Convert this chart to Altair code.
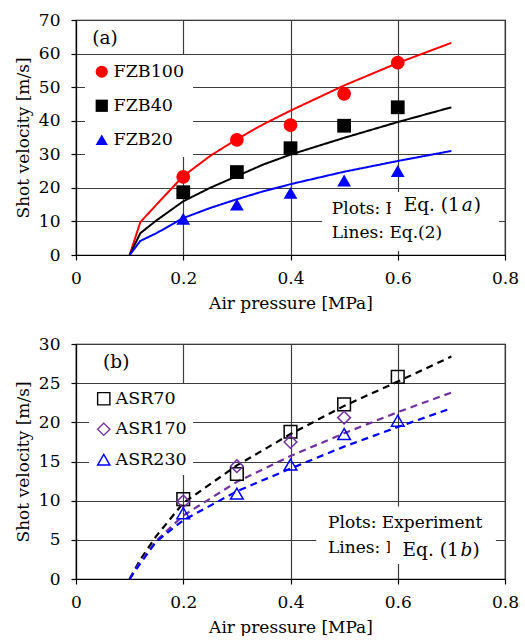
import altair as alt
import pandas as pd

FONT = "DejaVu Serif"
AX_FS = 17
TXT_FS = 17

# ---------------- Panel (a) data ----------------
a_series = ["FZB100", "FZB40", "FZB20"]
a_colors = ["#ff0000", "#000000", "#0000ff"]
a_shapes = ["circle", "square", "triangle-up"]
a_x = [0.2, 0.3, 0.4, 0.5, 0.6]
a_fzb100 = [23.3, 34.3, 38.7, 48.0, 57.3]
a_fzb40 = [18.7, 24.7, 31.8, 38.5, 44.0]
a_fzb20 = [10.8, 15.0, 18.5, 22.2, 25.0]
a_line_x = [0.1, 0.12, 0.15, 0.2, 0.25, 0.3, 0.35, 0.4, 0.5, 0.6, 0.7]
a_line_fzb100 = [0, 9.8, 15.0, 23.5, 29.5, 34.5, 39.0, 43.0, 50.5, 57.2, 63.2]
a_line_fzb40 = [0, 6.5, 10.3, 16.0, 20.0, 23.5, 27.0, 29.9, 34.9, 39.6, 44.0]
a_line_fzb20 = [0, 4.2, 6.5, 11.0, 14.0, 16.6, 19.0, 21.1, 24.8, 28.0, 31.0]

# ---------------- Panel (b) data ----------------
b_series = ["ASR70", "ASR170", "ASR230"]
b_colors = ["#000000", "#7030a0", "#0000ff"]
b_shapes = ["square", "diamond", "triangle-up"]
b_x = [0.2, 0.3, 0.4, 0.5, 0.6]
b_asr70 = [10.2, 13.4, 18.8, 22.3, 25.8]
b_asr170_x = [0.2, 0.3, 0.4, 0.5]
b_asr170 = [9.9, 14.4, 17.5, 20.6]
b_asr230 = [8.4, 10.9, 14.6, 18.5, 20.2]
b_line_x = [0.1, 0.12, 0.15, 0.2, 0.3, 0.4, 0.5, 0.6, 0.7]
b_line_asr70 = [0, 2.5, 5.5, 9.7, 14.5, 18.5, 22.1, 25.2, 28.4]
b_line_asr170 = [0, 2.2, 4.9, 8.1, 12.4, 15.7, 18.6, 21.3, 23.8]
b_line_asr230 = [0, 2.0, 4.8, 7.5, 11.2, 14.1, 16.9, 19.4, 21.8]

x_ticks = [0, 0.2, 0.4, 0.6, 0.8]
a_y_ticks = [0, 10, 20, 30, 40, 50, 60, 70]
b_y_ticks = [0, 5, 10, 15, 20, 25, 30]


def long_df(xs_list, ys_list, names):
    rows = []
    for xs, ys, n in zip(xs_list, ys_list, names):
        for xv, yv in zip(xs, ys):
            rows.append({"x": xv, "y": yv, "series": n})
    return pd.DataFrame(rows)


a_pts = long_df([a_x, a_x, a_x], [a_fzb100, a_fzb40, a_fzb20], a_series)
a_lines = long_df([a_line_x] * 3, [a_line_fzb100, a_line_fzb40, a_line_fzb20], a_series)
b_pts = long_df([b_x, b_asr170_x, b_x], [b_asr70, b_asr170, b_asr230], b_series)
b_lines = long_df([b_line_x] * 3, [b_line_asr70, b_line_asr170, b_line_asr230], b_series)

W, H = 429, 235


def axes(ydom, yticks):
    xenc = alt.X("x:Q", scale=alt.Scale(domain=[0, 0.8], nice=False, zero=False),
                 axis=alt.Axis(values=x_ticks, format=".1~f", title="Air pressure [MPa]",
                               labelFlush=False, labelOverlap=False,
                               labelPadding=10, titlePadding=9))
    yenc = alt.Y("y:Q", scale=alt.Scale(domain=ydom, nice=False),
                 axis=alt.Axis(values=yticks, title="Shot velocity [m/s]",
                               labelOverlap=False, labelPadding=11, titlePadding=6))
    return xenc, yenc


def panel(pts, lines, series, colors, shapes, ydom, yticks, filled, dashed,
          leg_x, leg_y, leg_pad, leg_rowpad, tag, tag_xy,
          box, cover, lines_text_xy, eq_xy, eq_letter):
    xenc, yenc = axes(ydom, yticks)
    cscale = alt.Scale(domain=series, range=colors)
    sscale = alt.Scale(domain=series, range=shapes)
    leg = alt.Legend(title=None, orient="none", legendX=leg_x, legendY=leg_y,
                     fillColor="white", padding=leg_pad, rowPadding=leg_rowpad,
                     labelFont=FONT, labelFontSize=17.5, labelColor="black",
                     symbolSize=150, labelOffset=3,
                     symbolStrokeWidth=1.4 if not filled else 0)
    line_layers = []
    for s, c in zip(series, colors):
        line_layers.append(
            alt.Chart(lines).transform_filter(alt.datum.series == s).mark_line(
                color=c,
                strokeWidth=2.2 if dashed else 2,
                strokeDash=[7, 5] if dashed else [1, 0],
            ).encode(x=xenc, y=yenc)
        )
    pt_layer = alt.Chart(pts).mark_point(
        filled=filled, opacity=1, size=190 if filled else 160,
        strokeWidth=1.5,
    ).encode(x=xenc, y=yenc,
             color=alt.Color("series:N", scale=cscale, legend=leg, sort=series),
             shape=alt.Shape("series:N", scale=sscale, legend=leg, sort=series))

    tag_df = pd.DataFrame({"x": [tag_xy[0]], "y": [tag_xy[1]], "t": [tag]})
    tag_layer = alt.Chart(tag_df).mark_text(font=FONT, fontSize=18.5, align="center",
                                            baseline="middle", color="black").encode(
        x=xenc, y=yenc, text="t:N")

    box_df = pd.DataFrame({"x": [box[0]], "x2": [box[1]], "y": [box[2]], "y2": [box[3]]})
    box_layer = alt.Chart(box_df).mark_rect(fill="white").encode(
        x=xenc, x2="x2:Q", y=yenc, y2="y2:Q")

    txt_df = pd.DataFrame({"x": [lines_text_xy[0], lines_text_xy[0]],
                           "y": [lines_text_xy[1], lines_text_xy[2]],
                           "t": ["Plots: Experiment", "Lines: Eq.(2)"]})
    txt_layer = alt.Chart(txt_df).mark_text(font=FONT, fontSize=TXT_FS, align="left",
                                            baseline="middle", color="black").encode(
        x=xenc, y=yenc, text="t:N")

    cov_df = pd.DataFrame({"x": [cover[0]], "x2": [cover[1]], "y": [cover[2]], "y2": [cover[3]]})
    cov_layer = alt.Chart(cov_df).mark_rect(fill="white").encode(
        x=xenc, x2="x2:Q", y=yenc, y2="y2:Q")

    eq_df = pd.DataFrame({"x": [eq_xy[0]], "y": [eq_xy[1]]})
    eq1 = alt.Chart(eq_df).mark_text(font=FONT, fontSize=18.5, align="left", baseline="middle",
                                     color="black", text="Eq. (1").encode(x=xenc, y=yenc)
    eq2 = alt.Chart(eq_df).mark_text(font=FONT, fontSize=18.5, align="left", baseline="middle",
                                     color="black", fontStyle="italic", dx=58,
                                     text=eq_letter).encode(x=xenc, y=yenc)
    eq3 = alt.Chart(eq_df).mark_text(font=FONT, fontSize=18.5, align="left", baseline="middle",
                                     color="black", dx=70, text=")").encode(x=xenc, y=yenc)

    return alt.layer(*line_layers, pt_layer, tag_layer, box_layer, txt_layer, cov_layer,
                     eq1, eq2, eq3).properties(width=W, height=H)


pa = panel(a_pts, a_lines, a_series, a_colors, a_shapes, [0, 70], a_y_ticks,
           filled=True, dashed=False, leg_x=9, leg_y=35, leg_pad=8, leg_rowpad=15,
           tag="(a)", tag_xy=(0.054, 64.5),
           box=(0.459, 0.789, 1.2, 18.8), cover=(0.587, 0.785, 10.9, 17.9),
           lines_text_xy=(0.477, 13.8, 6.6), eq_xy=(0.611, 14.9), eq_letter="a")

pb = panel(b_pts, b_lines, b_series, b_colors, b_shapes, [0, 30], b_y_ticks,
           filled=False, dashed=True, leg_x=13, leg_y=40, leg_pad=6, leg_rowpad=11.5,
           tag="(b)", tag_xy=(0.075, 27.7),
           box=(0.448, 0.783, 2.1, 9.27), cover=(0.585, 0.775, 1.9, 5.4),
           lines_text_xy=(0.470, 7.2, 4.0), eq_xy=(0.609, 3.75), eq_letter="b")

chart = alt.vconcat(pa, pb, spacing=22).resolve_scale(
    color="independent", shape="independent"
).properties(
    padding={"left": 13, "top": 10, "right": 2, "bottom": 0}
).configure_view(
    stroke="black", strokeWidth=1.2
).configure_axis(
    labelFont=FONT, titleFont=FONT, labelFontSize=AX_FS, titleFontSize=AX_FS,
    labelColor="black", titleColor="black", titleFontWeight="normal",
    gridColor="#3c3c3c", gridOpacity=1, gridWidth=1.2,
    domainColor="black", domainWidth=1.2, tickColor="black", tickSize=5, tickWidth=1.2,
    grid=True
)

chart.save("out.html", embed_options={"renderer": "svg", "actions": False})
